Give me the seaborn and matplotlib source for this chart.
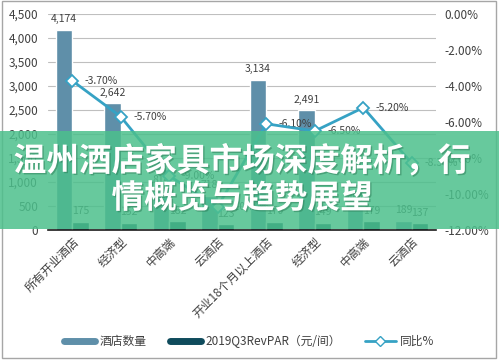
import numpy as np
import pandas as pd
import matplotlib.pyplot as plt
import matplotlib.patheffects as pe
from matplotlib.patches import Rectangle
from matplotlib.lines import Line2D
from matplotlib.ticker import FuncFormatter, MultipleLocator
import seaborn as sns

sns.set_theme(style='white')
plt.rcParams['font.family'] = ['Noto Sans CJK SC', 'DejaVu Sans']

categories = ['所有开业酒店', '经济型', '中高端', '云酒店',
              '开业18个月以上酒店', '经济型', '中高端', '云酒店']
hotel_count = [4174, 2642, 814, 718, 3134, 2491, 454, 189]
revpar = [175, 152, 182, 123, 170, 149, 179, 137]
yoy = [-3.7, -5.7, -9.0, -10.7, -6.1, -6.5, -5.2, -8.3]

c_count = '#5f8fa9'
c_rev = '#0f4b5c'
c_line = '#36a2c4'
txt = '#404040'

pos = list(range(len(categories)))
df = pd.DataFrame({
    'pos': pos * 2,
    'value': hotel_count + revpar,
    'series': ['酒店数量'] * len(pos) + ['RevPAR'] * len(pos),
})
df_line = pd.DataFrame({'pos': pos, 'yoy': yoy})

fig = plt.figure(figsize=(4.99, 3.61), dpi=100)
ax = fig.add_axes([0.096, 0.363, 0.778, 0.598])

sns.barplot(data=df, x='pos', y='value', hue='series', ax=ax,
            palette=[c_count, c_rev], width=0.68, saturation=1,
            legend=False, zorder=2)

ax.set_ylim(0, 4500)
ax.yaxis.set_major_locator(MultipleLocator(500))
ax.yaxis.set_major_formatter(FuncFormatter(lambda v, p: f'{int(v):,}'))
ax.grid(axis='y', color='#bfbfbf', lw=0.8, zorder=0)
ax.set_axisbelow(True)
for s in ['top', 'right', 'left']:
    ax.spines[s].set_visible(False)
ax.spines['bottom'].set_color('#1a1a1a')
ax.spines['bottom'].set_linewidth(1.2)
ax.set_xlim(-0.5, len(pos) - 0.5)
ax.set_xlabel('')
ax.set_ylabel('')
ax.tick_params(axis='y', labelsize=8.5, colors=txt, length=0, pad=7)
ax.set_xticks(pos)
ax.set_xticklabels(categories, rotation=45, ha='right',
                   rotation_mode='anchor', fontsize=8.5, color=txt)
ax.tick_params(axis='x', length=0, pad=4)

# data labels for the bars
for bars, vals in zip(ax.containers, [hotel_count, revpar]):
    ax.bar_label(bars, labels=[f'{v:,}' for v in vals], fontsize=7.5,
                 color=txt, padding=4)

ax2 = ax.twinx()
sns.lineplot(data=df_line, x='pos', y='yoy', ax=ax2, color=c_line, lw=2,
             marker='D', markersize=6, markerfacecolor='white',
             markeredgecolor=c_line, markeredgewidth=1.3, zorder=4)
ax2.set_ylim(-12, 0)
ax2.yaxis.set_major_locator(MultipleLocator(2))
ax2.yaxis.set_major_formatter(FuncFormatter(lambda v, p: f'{v:.2f}%'))
ax2.tick_params(axis='y', labelsize=8.5, colors=txt, length=0, pad=6)
ax2.set_ylabel('')
for s in ax2.spines.values():
    s.set_visible(False)
for x, v in zip(pos, yoy):
    ax2.annotate(f'{v:.2f}%', (x, v), xytext=(9, 0),
                 textcoords='offset points', fontsize=7.5, color=txt,
                 va='center', ha='left')

# legend
handles = [
    Line2D([], [], color=c_count, lw=5),
    Line2D([], [], color=c_rev, lw=5),
    Line2D([], [], color=c_line, lw=2, marker='D', markersize=5,
           markerfacecolor='white', markeredgecolor=c_line),
]
fig.legend(handles, ['酒店数量', '2019Q3RevPAR（元/间）', '同比%'],
           loc='center', bbox_to_anchor=(0.5, 0.055), ncol=3,
           frameon=False, fontsize=8.5, handlelength=2.6,
           columnspacing=2.0, handletextpad=0.4, labelcolor=txt)

# outer frame
fig.add_artist(Rectangle((0.004, 0.008), 0.99, 0.988,
                         transform=fig.transFigure, fill=False,
                         edgecolor='#a6a6a6', lw=1, zorder=1))

# title banner
fig.add_artist(Rectangle((0, 1 - 229 / 361), 1, 98 / 361,
                         transform=fig.transFigure, facecolor='#4cc08c',
                         alpha=0.85, edgecolor='none', zorder=5))
fig.text(0.485, 1 - 180 / 361, '温州酒店家具市场深度解析，行\n情概览与趋势展望',
         ha='center', va='center', ma='center', color='white',
         fontsize=23.5, fontweight='bold', linespacing=1.15, zorder=6,
         path_effects=[pe.withSimplePatchShadow(offset=(1, -1),
                                                shadow_rgbFace='#2a7a55',
                                                alpha=0.5)])

fig.savefig('out.png', dpi=100)
